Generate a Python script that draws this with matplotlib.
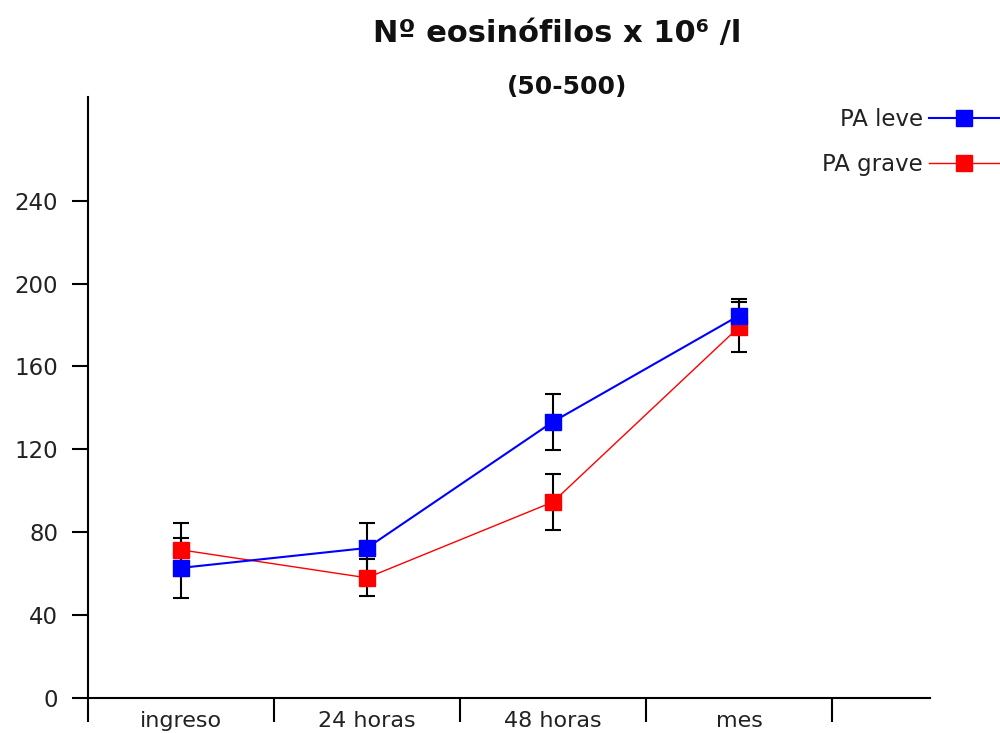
import numpy as np
import matplotlib.pyplot as plt

# eosinophil counts per time point (mean and error)
categorias = ['ingreso', '24 horas', '48 horas', 'mes']
leve = [62.8, 72.4, 133.3, 184.5]
leve_err = [14.5, 12.0, 13.5, 8.0]
grave = [71.5, 58.0, 94.6, 179.0]
grave_err = [12.8, 9.0, 13.4, 12.0]
yticks = [0, 40, 80, 120, 160, 200, 240]

fig = plt.figure(figsize=(10, 7.33), dpi=100)
ax = fig.add_axes([0.088, 0.0477, 0.842, 0.82])

x = np.arange(len(categorias)) + 0.5

# error bars first so the markers sit on top
ax.errorbar(x, leve, yerr=leve_err, fmt='none', ecolor='black', elinewidth=1.5,
            capsize=5.5, capthick=1.5, zorder=2)
ax.errorbar(x, grave, yerr=grave_err, fmt='none', ecolor='black', elinewidth=1.5,
            capsize=5.5, capthick=1.5, zorder=2)

ax.plot(x, leve, color='#0000ff', lw=1.5, marker='s', ms=11.5, mec='#0000ff',
        label='PA leve', zorder=4)
ax.plot(x, grave, color='#ff0000', lw=1.0, marker='s', ms=11.5, mec='#ff0000',
        label='PA grave', zorder=3)

ax.set_xlim(0, 4.527)
ax.set_ylim(0, 290)

ax.spines['top'].set_visible(False)
ax.spines['right'].set_visible(False)
for s in ('left', 'bottom'):
    ax.spines[s].set_linewidth(1.5)

# category boundaries as long ticks, labels centred in between
ax.set_xticks(np.arange(len(categorias) + 1))
ax.set_xticklabels([])
ax.set_xticks(x, minor=True)
ax.set_xticklabels(categorias, minor=True, fontsize=16, color='#222222')
ax.tick_params(axis='x', which='major', direction='out', length=17, width=1.5)
ax.tick_params(axis='x', which='minor', length=0, pad=9)

ax.set_yticks(yticks)
ax.set_yticklabels([str(v) for v in yticks], fontsize=16.5, color='#222222')
ax.tick_params(axis='y', direction='out', length=11.5, width=1.5, pad=10)

fig.text(0.557, 0.954, 'Nº eosinófilos x 10⁶ /l', ha='center', va='center',
         fontsize=22, fontweight='bold', color='#111111')
fig.text(0.567, 0.881, '(50-500)', ha='center', va='center',
         fontsize=18, fontweight='bold', color='#111111')

ax.legend(loc='upper right', bbox_to_anchor=(1.0, 0.853), bbox_transform=fig.transFigure,
          markerfirst=False, frameon=False, fontsize=16.5, handlelength=3.1,
          handletextpad=0.25, labelspacing=0.95, borderpad=0, borderaxespad=0,
          labelcolor='#222222')

fig.savefig('out.png', dpi=100)
